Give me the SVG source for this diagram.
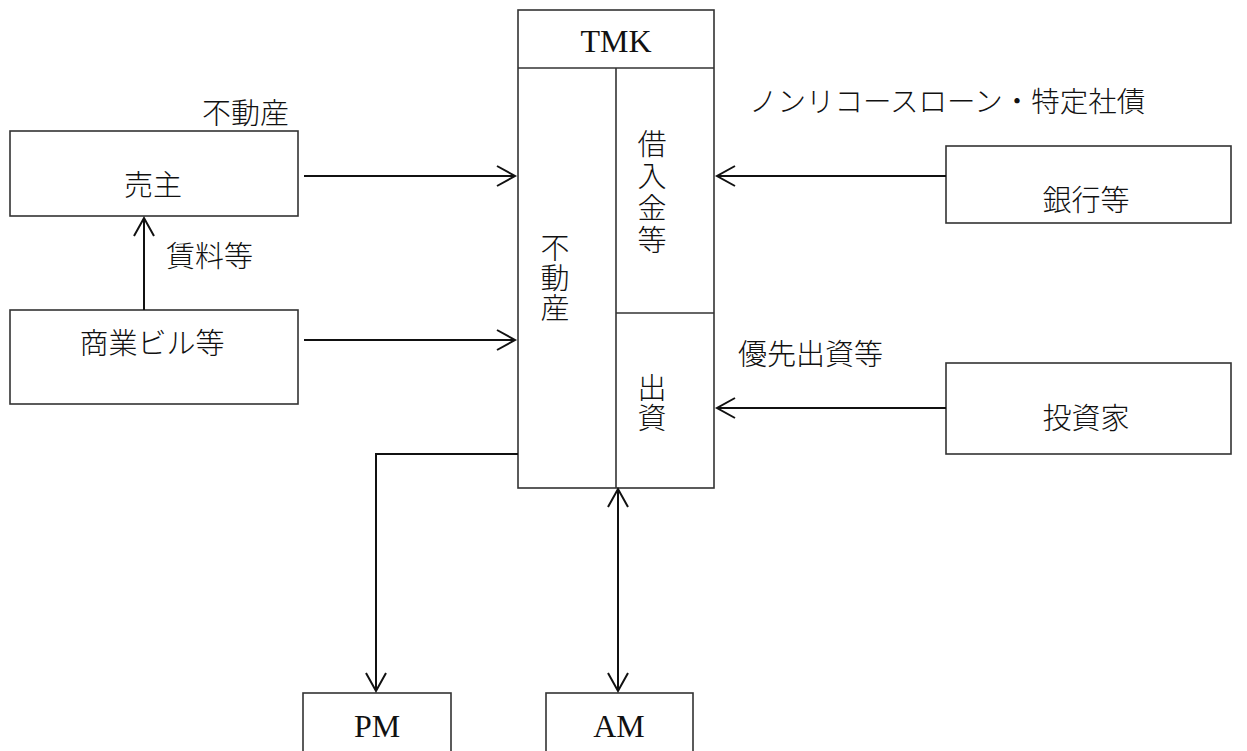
<svg xmlns="http://www.w3.org/2000/svg" width="1247" height="751" viewBox="0 0 1247 751">
<style>
.box{fill:#fff;stroke:#333;stroke-width:1.6}
.ln{fill:none;stroke:#111;stroke-width:2}
.jp{font-family:"Liberation Serif","Noto Sans CJK JP",serif;font-size:29px;fill:#111;font-weight:300}
.en{font-family:"Liberation Serif","Times New Roman",serif;font-size:32px;fill:#111}
.mid{text-anchor:middle}
</style>
<defs>
<marker id="arr" markerUnits="userSpaceOnUse" markerWidth="22" markerHeight="24" refX="19" refY="11" orient="auto-start-reverse" viewBox="0 0 22 24">
<path d="M1,1 L19,11 L1,21" fill="none" stroke="#111" stroke-width="2"/>
</marker>
</defs>
<rect width="1247" height="751" fill="#fff"/>
<g id="tmk">
<rect class="box" x="518" y="10" width="196" height="478"/>
<line class="box" x1="518" y1="68" x2="714" y2="68"/>
<line class="box" x1="616" y1="68" x2="616" y2="488"/>
<line class="box" x1="616" y1="313" x2="714" y2="313"/>
<text class="en mid" x="616" y="52">TMK</text>
<text class="jp mid" x="555" y="259">不<tspan x="555" dy="30">動</tspan><tspan x="555" dy="30">産</tspan></text>
<text class="jp mid" x="652" y="155">借<tspan x="652" dy="32">入</tspan><tspan x="652" dy="32">金</tspan><tspan x="652" dy="32">等</tspan></text>
<text class="jp mid" x="652" y="399">出<tspan x="652" dy="30">資</tspan></text>
</g>
<g id="seller">
<rect class="box" x="10" y="131" width="288" height="85"/>
<text class="jp mid" x="153" y="196">売主</text>
</g>
<g id="building">
<rect class="box" x="10" y="310" width="288" height="94"/>
<text class="jp mid" x="152" y="354">商業ビル等</text>
</g>
<g id="bank">
<rect class="box" x="946" y="146" width="285" height="77"/>
<text class="jp mid" x="1086" y="211">銀行等</text>
</g>
<g id="investor">
<rect class="box" x="946" y="363" width="285" height="91"/>
<text class="jp mid" x="1086" y="429">投資家</text>
</g>
<g id="pm">
<rect class="box" x="303" y="693" width="148" height="70"/>
<text class="en mid" x="377" y="737">PM</text>
</g>
<g id="am">
<rect class="box" x="546" y="693" width="147" height="70"/>
<text class="en mid" x="619" y="737">AM</text>
</g>
<g id="connectors">
<line class="ln" x1="304" y1="176" x2="515" y2="176" marker-end="url(#arr)"/>
<line class="ln" x1="304" y1="340" x2="515" y2="340" marker-end="url(#arr)"/>
<line class="ln" x1="144" y1="310" x2="144" y2="218" marker-end="url(#arr)"/>
<line class="ln" x1="946" y1="176" x2="717" y2="176" marker-end="url(#arr)"/>
<line class="ln" x1="946" y1="408" x2="717" y2="408" marker-end="url(#arr)"/>
<polyline class="ln" points="518,454 376,454 376,691" marker-end="url(#arr)"/>
<line class="ln" x1="618" y1="489" x2="618" y2="691" marker-start="url(#arr)" marker-end="url(#arr)"/>
</g>
<g id="labels">
<text class="jp" x="289" y="124" text-anchor="end">不動産</text>
<text class="jp" x="166" y="267">賃料等</text>
<text class="jp" x="749" y="112" style="font-size:28.5px">ノンリコースローン・特定社債</text>
<text class="jp" x="738" y="365">優先出資等</text>
</g>
</svg>
